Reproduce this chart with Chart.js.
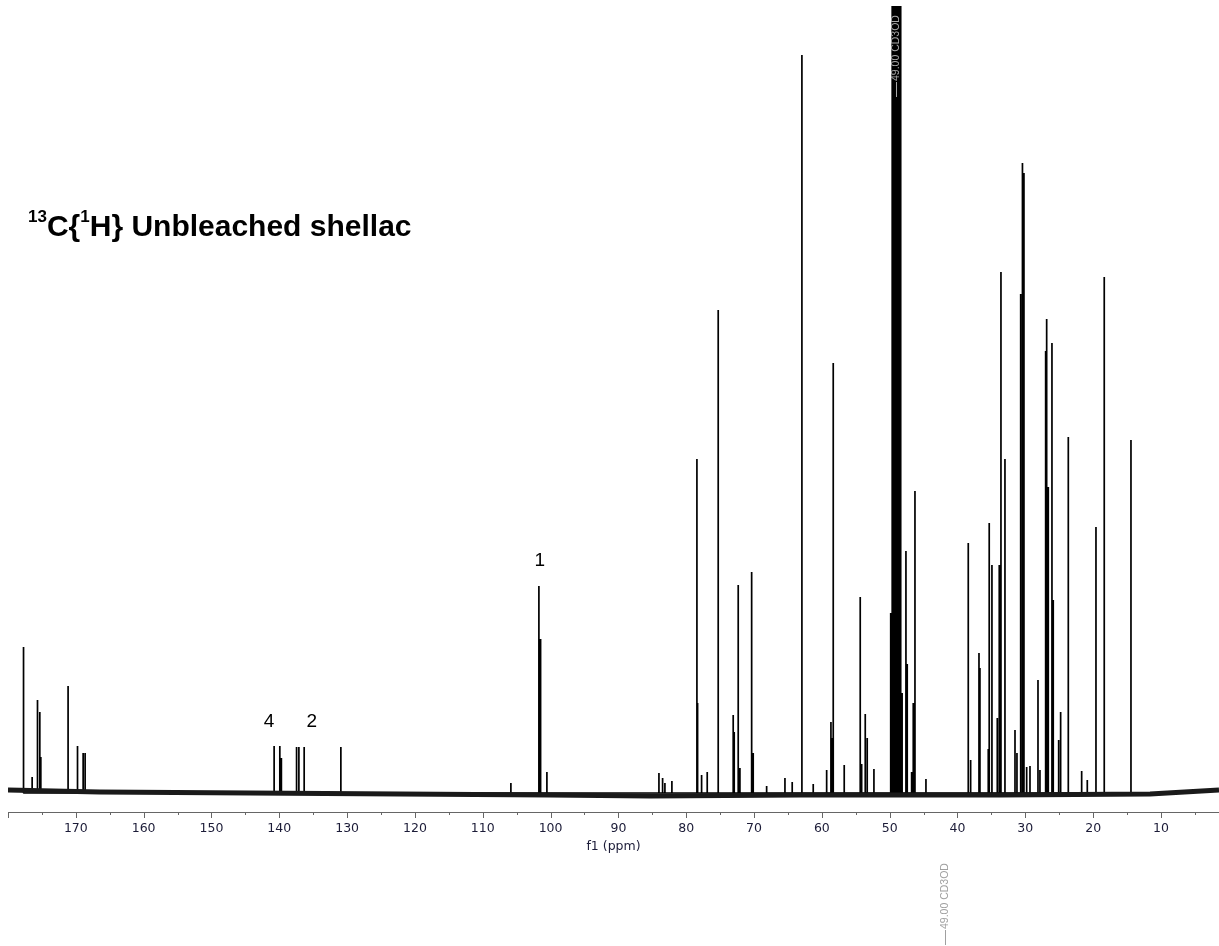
<!DOCTYPE html>
<html>
<head>
<meta charset="utf-8">
<script src="https://cdn.jsdelivr.net/npm/chart.js@4.4.0/dist/chart.umd.min.js"></script>
<style>
  html, body { margin: 0; padding: 0; background: #fff; }
  #wrap { position: relative; width: 1219px; height: 946px; overflow: hidden; }
  #spectrum { position: absolute; left: 0; top: 0; }
  #title {
    position: absolute; left: 28px; top: 209px;
    font: bold 30px 'Liberation Sans', Arial, sans-serif;
    line-height: 34px; white-space: nowrap; color: #000;
  }
  #title sup { font-size: 17px; vertical-align: 14px; line-height: 0; }
</style>
</head>
<body>
<div id="wrap">
  <canvas id="spectrum" width="1219" height="946"></canvas>
  <div id="title"><sup>13</sup>C{<sup>1</sup>H} Unbleached shellac</div>
</div>
<script>
// 13C peaks (ppm, height above baseline)
const peakPpm = [
  177.71, 176.44, 175.65, 175.31, 175.16, 171.14, 169.75, 168.92, 168.63,
  140.76, 139.92, 139.69, 137.45, 137.11, 136.33, 130.92,
  105.85, 101.72, 101.47, 100.54,
  84.02, 83.48, 83.14, 82.11, 78.42, 78.32, 77.73, 76.90, 75.28, 73.07,
  72.92, 72.33, 72.08, 70.35, 70.12, 68.14, 65.44, 64.37, 62.94, 61.27,
  59.29, 58.66, 58.41, 58.32, 56.70, 54.34, 54.13, 53.60, 53.31, 52.32,
  47.60, 47.41, 46.76, 46.52, 46.27, 44.65,
  38.41, 38.06, 36.83, 36.69, 35.46, 35.32, 34.92, 34.13, 33.84, 33.59,
  33.00, 31.52, 31.23, 30.68, 30.42, 30.20, 29.80, 29.31, 28.13, 27.84,
  27.00, 26.85, 26.61, 26.07, 25.88, 25.08, 24.79, 23.66, 21.69, 20.86,
  19.58, 18.36, 14.42
];
const peakHeight = [
  146, 16, 93, 81, 36, 107, 47, 40, 40,
  47, 47, 35, 46, 46, 46, 46,
  10, 207, 154, 21,
  20, 15, 10, 12, 334, 90, 18, 21, 483, 78,
  61, 208, 25, 221, 40, 7, 15, 11, 738, 9,
  23, 71, 55, 430, 28, 196, 29, 79, 55, 24,
  242, 129, 21, 90, 302, 14,
  250, 33, 140, 125, 44, 270, 228, 75, 228, 521,
  334, 63, 40, 499, 630, 620, 26, 27, 113, 23,
  442, 474, 306, 450, 193, 53, 81, 356, 22, 13,
  266, 516, 353
];

// CD3OD solvent septet (runs off the top of the plot)
const solventPpm = [49.86, 49.64, 49.43, 49.21, 49.00, 48.79, 48.57, 48.36, 48.15];
const solventHeight = [180, 900, 900, 900, 900, 900, 900, 900, 100];

// baseline drift (noise band centre)
const baselinePpm = [180, 166.5, 144.3, 122.2, 100.1, 85.35, 63.2, 33.7, 11.6, 1.44];
const baselineLevel = [3, 1, 0, -1, -2, -3, -2, -2, -1, 3];

// axis ticks
const labelTicks = [170, 160, 150, 140, 130, 120, 110, 100, 90, 80, 70, 60, 50, 40, 30, 20, 10];
const majorTicks = [180, 170, 160, 150, 140, 130, 120, 110, 100, 90, 80, 70, 60, 50, 40, 30, 20, 10];
const minorTicks = [175, 165, 155, 145, 135, 125, 115, 105, 95, 85, 75, 65, 55, 45, 35, 25, 15, 5];

// peak assignment labels
const assignText = ['4', '2', '1'];
const assignPpm = [141.5, 135.2, 101.6];
const assignLevel = [71, 71, 232];

const solventLabel = '49.00 CD3OD';
const solventLabelPpm = [49.0, 41.9];

const axisFont = "'DejaVu Sans', Verdana, sans-serif";
const textFont = "'Liberation Sans', Arial, sans-serif";

function buildSticks(ppm, height) {
  const pts = [];
  ppm.forEach((p, i) => {
    pts.push({ x: p, y: 0 }, { x: p, y: height[i] }, { x: p, y: 0 });
  });
  return pts;
}

// tick marks, assignment numbers and solvent labels
const annotations = {
  id: 'annotations',
  afterDraw(chart) {
    const { ctx, scales: { x, y } } = chart;
    ctx.save();

    // tick marks (long = every 10 ppm, short = every 5)
    ctx.strokeStyle = '#666';
    ctx.lineWidth = 1;
    const tick = (v, len) => {
      const px = Math.round(x.getPixelForValue(v)) + 0.5;
      ctx.beginPath();
      ctx.moveTo(px, x.top);
      ctx.lineTo(px, x.top + len);
      ctx.stroke();
    };
    majorTicks.forEach(v => tick(v, 6));
    minorTicks.forEach(v => tick(v, 3));

    // assignment numbers
    ctx.fillStyle = '#000';
    ctx.font = '19px ' + textFont;
    ctx.textAlign = 'center';
    ctx.textBaseline = 'middle';
    assignText.forEach((t, i) => {
      ctx.fillText(t, x.getPixelForValue(assignPpm[i]), y.getPixelForValue(assignLevel[i]));
    });

    // solvent labels, rotated, read bottom to top
    const drawSolvent = (v, bottom, color) => {
      ctx.save();
      ctx.translate(Math.round(x.getPixelForValue(v)) + 0.5, bottom);
      ctx.rotate(-Math.PI / 2);
      ctx.strokeStyle = color;
      ctx.fillStyle = color;
      ctx.beginPath();
      ctx.moveTo(0, 0);
      ctx.lineTo(15, 0);
      ctx.stroke();
      ctx.font = '10.5px ' + textFont;
      ctx.textAlign = 'left';
      ctx.textBaseline = 'middle';
      ctx.fillText(solventLabel, 16, 0);
      ctx.restore();
    };
    drawSolvent(solventLabelPpm[0], 97, '#a8a8a8');
    drawSolvent(solventLabelPpm[1], 945, '#a0a0a0');

    ctx.restore();
  }
};

new Chart(document.getElementById('spectrum'), {
  type: 'line',
  data: {
    datasets: [
      {
        label: 'baseline',
        data: baselinePpm.map((p, i) => ({ x: p, y: baselineLevel[i] })),
        borderColor: '#1a1a1a',
        borderWidth: 5,
        pointRadius: 0,
        tension: 0
      },
      {
        label: 'spectrum',
        data: buildSticks(peakPpm, peakHeight),
        borderColor: '#000',
        borderWidth: 1.7,
        borderJoinStyle: 'bevel',
        pointRadius: 0,
        tension: 0
      },
      {
        label: 'CD3OD',
        data: buildSticks(solventPpm, solventHeight),
        borderColor: '#000',
        borderWidth: 1.5,
        borderJoinStyle: 'bevel',
        pointRadius: 0,
        tension: 0
      }
    ]
  },
  options: {
    responsive: false,
    animation: false,
    devicePixelRatio: 1,
    layout: { padding: { left: 8, right: 0, top: 6, bottom: 84 } },
    plugins: {
      legend: { display: false },
      tooltip: { enabled: false }
    },
    scales: {
      x: {
        type: 'linear',
        reverse: true,
        min: 1.44,
        max: 180,
        afterBuildTicks: (scale) => {
          scale.ticks = labelTicks.slice().sort((a, b) => a - b).map(v => ({ value: v }));
        },
        afterFit: (scale) => { scale.height = 50; },
        grid: { display: false, drawTicks: false },
        border: { display: true, color: '#666', width: 1 },
        ticks: {
          color: '#1c1c38',
          font: { family: axisFont, size: 12.5 },
          padding: 9,
          maxRotation: 0,
          autoSkip: false
        },
        title: {
          display: true,
          text: 'f1 (ppm)',
          color: '#1c1c38',
          font: { family: axisFont, size: 12.5 },
          padding: { top: 0, bottom: 8 }
        }
      },
      y: {
        display: false,
        min: -19,
        max: 787
      }
    }
  },
  plugins: [annotations]
});
</script>
</body>
</html>
